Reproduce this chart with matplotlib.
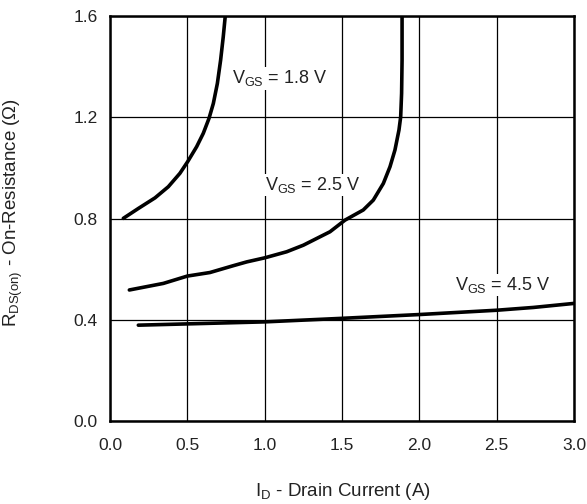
import matplotlib.pyplot as plt

plt.rcParams['font.family'] = ['Liberation Sans', 'DejaVu Sans']
plt.rcParams['mathtext.fontset'] = 'custom'
plt.rcParams['mathtext.rm'] = 'Liberation Sans'

# VGS = 1.8 V
x18 = [0.086, 0.183, 0.291, 0.377, 0.452, 0.502, 0.560, 0.603, 0.640, 0.668, 0.694, 0.715, 0.732, 0.745]
y18 = [0.801, 0.840, 0.882, 0.926, 0.979, 1.025, 1.084, 1.137, 1.196, 1.255, 1.334, 1.426, 1.518, 1.60]

# VGS = 2.5 V
x25 = [0.125, 0.345, 0.50, 0.646, 0.797, 0.884, 1.0, 1.142, 1.25, 1.357, 1.422, 1.519, 1.637,
       1.702, 1.767, 1.81, 1.842, 1.868, 1.879, 1.885, 1.888, 1.888]
y25 = [0.518, 0.544, 0.573, 0.587, 0.614, 0.629, 0.645, 0.669, 0.695, 0.728, 0.748, 0.794, 0.834,
       0.873, 0.939, 1.005, 1.071, 1.15, 1.202, 1.295, 1.426, 1.60]

# VGS = 4.5 V
x45 = [0.183, 1.0, 1.5, 2.0, 2.5, 2.737, 3.0]
y45 = [0.379, 0.392, 0.406, 0.421, 0.438, 0.449, 0.465]

xticks = [0.0, 0.5, 1.0, 1.5, 2.0, 2.5, 3.0]
yticks = [0.0, 0.4, 0.8, 1.2, 1.6]

fig = plt.figure(figsize=(5.87, 5.04), dpi=100)
ax = fig.add_axes([0.1874, 0.1645, 0.7906, 0.8035])

for xs, ys in [(x18, y18), (x25, y25), (x45, y45)]:
    ax.plot(xs, ys, color='black', lw=2.6, solid_capstyle='round',
            solid_joinstyle='round', zorder=3)

ax.set_xlim(0, 3.0)
ax.set_ylim(0, 1.6)
ax.set_xticks(xticks)
ax.set_yticks(yticks)
ax.set_xticklabels([f"{v:.1f}" for v in xticks])
ax.set_yticklabels([f"{v:.1f}" for v in yticks])
ax.tick_params(length=0, labelsize=12.5, colors='#222222')
ax.tick_params(axis='x', pad=12)
ax.tick_params(axis='y', pad=9)
ax.grid(True, color='black', lw=0.9)
for s in ax.spines.values():
    s.set_linewidth(1.8)

txt = dict(fontsize=13, color='#222222', zorder=4,
           bbox=dict(facecolor='white', edgecolor='none', pad=1))
ax.text(0.79, 1.335, r'V$_{\mathrm{GS}}$ = 1.8 V', **txt)
ax.text(1.0, 0.913, r'V$_{\mathrm{GS}}$ = 2.5 V', **txt)
ax.text(2.23, 0.518, r'V$_{\mathrm{GS}}$ = 4.5 V', **txt)

ax.set_xlabel(r'I$_{\mathrm{D}}$ - Drain Current (A)', fontsize=13.5, color='#222222')
ax.set_ylabel(r'R$_{\mathrm{DS(on)}}$ - On-Resistance ($\Omega$)', fontsize=13.5, color='#222222')
ax.xaxis.set_label_coords(0.502, -0.149)
ax.yaxis.set_label_coords(-0.183, 0.514)

fig.savefig('out.png', dpi=100)
